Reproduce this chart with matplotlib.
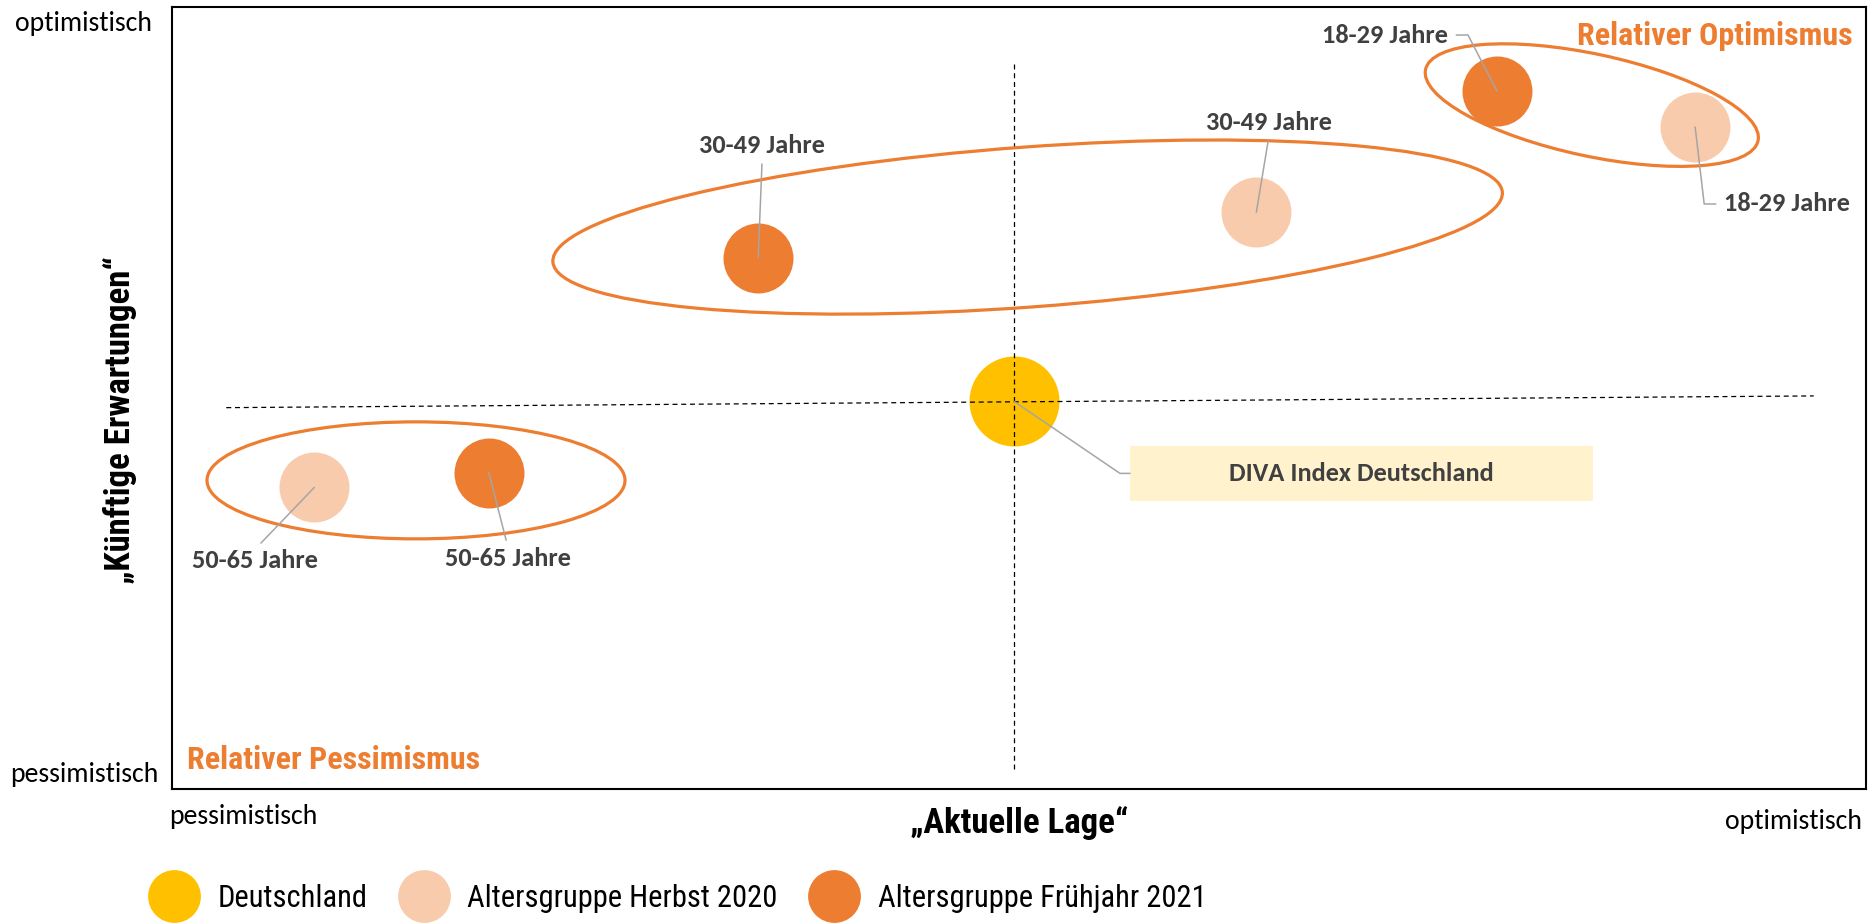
import matplotlib

matplotlib.use("Agg")
import matplotlib.pyplot as plt
from matplotlib.lines import Line2D
from matplotlib.patches import Ellipse, Rectangle
from matplotlib.transforms import Affine2D, ScaledTranslation

# Positionen im Index-Raum (0 = pessimistisch, 100 = optimistisch)
gruppen = ["18-29 Jahre", "30-49 Jahre", "50-65 Jahre"]
herbst_lage = [89.9, 64.0, 8.4]
herbst_erwartung = [84.7, 73.8, 38.6]
fruehjahr_lage = [78.2, 34.6, 18.7]
fruehjahr_erwartung = [89.3, 68.0, 40.5]
deutschland_lage = [49.7]
deutschland_erwartung = [49.6]

legende = ["Deutschland", "Altersgruppe Herbst 2020", "Altersgruppe Frühjahr 2021"]

GELB = "#FFC000"
HELL = "#F8CBAD"
ORANGE = "#ED7D31"
GRAU = "#404040"
LINIE = "#A5A5A5"

NARROW = ["Roboto Condensed", "DejaVu Sans"]
LABEL = ["Carlito", "DejaVu Sans"]

fig = plt.figure(figsize=(18.7, 9.23), dpi=100)
ax = fig.add_axes([0.092, 0.145, 0.906, 0.847])
ax.set_xlim(0, 100)
ax.set_ylim(0, 100)
ax.set_xticks([])
ax.set_yticks([])
for sp in ax.spines.values():
    sp.set_linewidth(1.5)
    sp.set_color("black")


def px_trans(x, y):
    """Transform: Pixel-Offsets relativ zu einem Datenpunkt."""
    return Affine2D().scale(0.01) + fig.dpi_scale_trans + ScaledTranslation(x, y, ax.transData)


ax.scatter(herbst_lage, herbst_erwartung, s=2540, color=HELL, linewidths=0, zorder=2)
ax.scatter(fruehjahr_lage, fruehjahr_erwartung, s=2540, color=ORANGE, linewidths=0, zorder=2)
ax.scatter(deutschland_lage, deutschland_erwartung, s=4200, color=GELB, linewidths=0, zorder=2)

# Achsenkreuz durch Deutschland
ax.plot([3.2, 96.9], [48.8, 50.3], color="black", lw=0.9, ls=(0, (4, 3)), zorder=3)
ax.plot([deutschland_lage[0]] * 2, [2.6, 93.2], color="black", lw=0.9, ls=(0, (4, 3)), zorder=3)

# Gruppen-Ellipsen (Zentrum in Daten, Größe in Pixel)
for cx, cy, w, h, ang in [(14.4, 39.5, 418, 117, 0), (50.5, 71.9, 952, 160, 4.2), (83.8, 87.5, 340, 102, -12.1)]:
    ax.add_patch(Ellipse((0, 0), w, h, angle=ang, fill=False, ec=ORANGE, lw=2.3,
                         transform=px_trans(cx, cy), zorder=4))

lab = dict(fontsize=19, fontweight="bold", color=GRAU, family=LABEL, zorder=6)


def leader(text, x, y, dx, dy, ha, va, relpos, conn="arc3", shrink=3, patch=None):
    props = dict(arrowstyle="-", color=LINIE, lw=1.1, shrinkA=shrink, shrinkB=0,
                 connectionstyle=conn, relpos=relpos)
    if patch is not None:
        props["patchA"] = patch
    ax.annotate(text, xy=(x, y), xytext=(dx, dy), textcoords="offset pixels",
                ha=ha, va=va, arrowprops=props, **lab)


leader(gruppen[0], fruehjahr_lage[0], fruehjahr_erwartung[0], -49, 56, "right", "center", (1, 0.5),
       "angle,angleA=0,angleB=117.3,rad=0", shrink=4)
leader(gruppen[0], herbst_lage[0], herbst_erwartung[0], 29, -77, "left", "center", (0, 0.5),
       "angle,angleA=0,angleB=-83.3,rad=0", shrink=4)
leader(gruppen[1], fruehjahr_lage[1], fruehjahr_erwartung[1], 4, 112, "center", "center", (0.5, 0))
leader(gruppen[1], herbst_lage[1], herbst_erwartung[1], 13, 90, "center", "center", (0.5, 0))
leader(gruppen[2], herbst_lage[2], herbst_erwartung[2], -59, -73, "center", "center", (0.5, 1))
leader(gruppen[2], fruehjahr_lage[2], fruehjahr_erwartung[2], 19, -86, "center", "center", (0.5, 1))

box = Rectangle((116, -100), 463, 55, facecolor="#FFF2CC", edgecolor="none",
                transform=px_trans(deutschland_lage[0], deutschland_erwartung[0]), zorder=5)
ax.add_patch(box)
leader("DIVA Index Deutschland", deutschland_lage[0], deutschland_erwartung[0], 347, -72,
       "center", "center", (0, 0.5), "angle,angleA=0,angleB=-34.2,rad=0", shrink=0, patch=box)

ax.text(0.992, 0.964, "Relativer Optimismus", transform=ax.transAxes, ha="right", va="center",
        fontsize=23, fontweight="bold", color=ORANGE, family=NARROW)
ax.text(0.009, 0.037, "Relativer Pessimismus", transform=ax.transAxes, ha="left", va="center",
        fontsize=23, fontweight="bold", color=ORANGE, family=NARROW)

ecke = dict(fontsize=20, color="black", family=LABEL)
fig.text(0.0813, 0.975, "optimistisch", ha="right", va="center", **ecke)
fig.text(0.0845, 0.161, "pessimistisch", ha="right", va="center", **ecke)
fig.text(0.0904, 0.115, "pessimistisch", ha="left", va="center", **ecke)
fig.text(0.9957, 0.110, "optimistisch", ha="right", va="center", **ecke)

fig.text(0.545, 0.108, "„Aktuelle Lage“", ha="center", va="center", fontsize=25,
         fontweight="bold", family=NARROW)
fig.text(0.064, 0.545, "„Künftige Erwartungen“", ha="center", va="center", rotation=90,
         fontsize=25, fontweight="bold", family=NARROW)

handles = [Line2D([], [], ls="none", marker="o", markersize=38, markerfacecolor=c, markeredgewidth=0)
           for c in (GELB, HELL, ORANGE)]
fig.legend(handles, legende, loc="center left", bbox_to_anchor=(0.080, 0.027), ncol=3,
           frameon=False, borderpad=0, borderaxespad=0, handlelength=1.6, handletextpad=0.62,
           columnspacing=1.05, prop=dict(family=NARROW, size=22))

fig.savefig("out.png", dpi=100)
